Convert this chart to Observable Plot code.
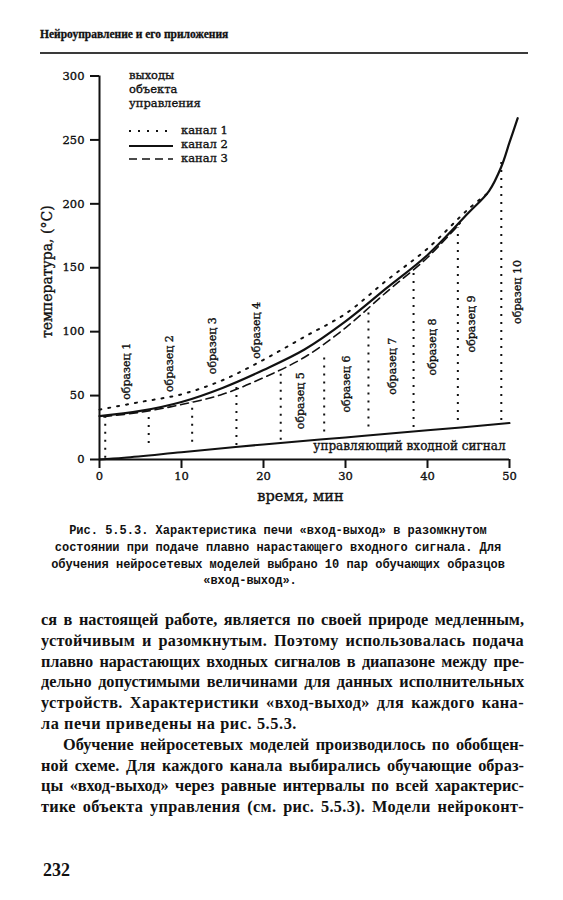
<!DOCTYPE html>
<html><head><meta charset="utf-8">
<script src="https://cdn.jsdelivr.net/npm/d3@7"></script>
<script src="https://cdn.jsdelivr.net/npm/@observablehq/plot@0.6"></script>
<style>
body{margin:0;background:#fff;width:563px;height:900px;position:relative;overflow:hidden;color:#111;font-family:"Liberation Serif",serif}
#header{position:absolute;left:40px;top:27.4px;font:bold 11.5px/14px "Liberation Serif",serif;white-space:nowrap;-webkit-text-stroke:0.3px #111}
#rule{position:absolute;left:40px;top:52px;width:488px;height:2px;background:#3a3a3a}
#chart{position:absolute;left:0;top:60px}
#chart svg text{stroke:#111;stroke-width:0.35px}
.lg{position:absolute;font:11.5px/14px "DejaVu Serif",serif;white-space:nowrap;-webkit-text-stroke:0.35px #111}
#caption{position:absolute;left:0;top:523.3px;width:556px;text-align:center;font:bold 12px/16.7px "Liberation Mono",monospace}
#body{position:absolute;left:41px;top:610px;width:483px;font:bold 16.3px/20.8px "Liberation Serif",serif}
#body div{white-space:nowrap}
#page{position:absolute;left:43px;top:860px;font:bold 18px/20px "Liberation Serif",serif}
</style></head>
<body>
<div id="header"></div>
<div id="rule"></div>
<div id="chart"></div>
<div id="legend"></div>
<div id="caption"></div>
<div id="body"></div>
<div id="page"></div>
<script>
// ---- data ----
const xTicks = [0, 10, 20, 30, 40, 50];
const yTicks = [0, 50, 100, 150, 200, 250, 300];

const time1 = [0, 5, 10, 15, 20, 25, 30, 35, 40, 45, 47.3];
const chan1 = [39, 45, 51, 62, 78, 96, 114, 140, 165, 196, 208];

const time2 = [0, 5, 10, 15, 20, 25, 30, 35, 40, 45, 47.5, 49, 50, 51];
const chan2 = [34, 38, 45, 56, 70, 86, 108, 134, 160, 193, 210, 229, 248, 267];

const time3 = [0.5, 5, 10, 15, 20, 25, 30, 35, 40, 44];
const chan3 = [33.5, 37, 43, 51, 64, 80, 103, 131, 158, 185];

const timeIn = [0, 3, 10, 20, 30, 40, 50];
const inputSig = [0, 1.3, 5.6, 11.8, 17.3, 22.8, 28.5];

const sampleT = [0.7, 6.0, 11.3, 16.7, 22.1, 27.4, 32.8, 38.3, 43.7, 49.0];
const sampleLow = [1, 12.5, 13.5, 11, 15, 21.5, 25.5, 25, 30.5, 30.5];
const sampleHigh = [33, 38.4, 45, 59, 69.5, 84, 116, 149, 181, 234];
const sampleNames = ["образец 1", "образец 2", "образец 3", "образец 4", "образец 5",
  "образец 6", "образец 7", "образец 8", "образец 9", "образец 10"];
const labelT = [3.3, 8.5, 13.8, 19.1, 24.5, 30.1, 35.7, 40.6, 45.4, 51];
const labelV = [69, 75, 89, 101, 46, 59, 73, 88, 106, 131];

const inputLabel = "управляющий входной сигнал";
const inputLabelT = 37.8, inputLabelV = 10.4;
const xLabel = "время, мин";
const yLabel = "температура, (°С)";

const legendTitle = ["выходы", "объекта", "управления"];
const legendNames = ["канал 1", "канал 2", "канал 3"];
const legendDash = ["2,7", "none", "8,5"];

const headerText = "Нейроуправление и его приложения";
const captionLines = [
  "Рис. 5.5.3. Характеристика печи «вход-выход» в разомкнутом",
  "состоянии при подаче плавно нарастающего входного сигнала. Для",
  "обучения нейросетевых моделей выбрано 10 пар обучающих образцов",
  "«вход-выход»."
];
const bodyLines = [
  "ся в настоящей работе, является по своей природе медленным,",
  "устойчивым и разомкнутым. Поэтому использовалась подача",
  "плавно нарастающих входных сигналов в диапазоне между пре-",
  "дельно допустимыми величинами для данных исполнительных",
  "устройств. Характеристики «вход-выход» для каждого кана-",
  "ла печи приведены на рис. 5.5.3.",
  "Обучение нейросетевых моделей производилось по обобщен-",
  "ной схеме. Для каждого канала выбирались обучающие образ-",
  "цы «вход-выход» через равные интервалы по всей характерис-",
  "тике объекта управления (см. рис. 5.5.3). Модели нейроконт-"
];
const pageNumber = "232";

// ---- build ----
const ink = "#111";
const rows = (ts, vs) => ts.map((t, i) => ({t, v: vs[i]}));

const samples = sampleT.map((t, i) => ({t, lo: sampleLow[i], hi: sampleHigh[i]}));
const sLabels = sampleNames.map((s, i) => ({s, t: labelT[i], v: labelV[i]}));

const plot = Plot.plot({
  width: 563, height: 450,
  marginTop: 15.5, marginBottom: 51, marginLeft: 99, marginRight: 54,
  x: {domain: [0, 50]},
  y: {domain: [0, 300]},
  style: {fontFamily: "'DejaVu Serif', serif", fontSize: "11.5px", color: ink, background: "transparent", overflow: "visible"},
  marks: [
    Plot.ruleX(samples, {x: "t", y1: "lo", y2: "hi", stroke: ink, strokeWidth: 2, strokeDasharray: "2,6"}),
    Plot.line(rows(timeIn, inputSig), {x: "t", y: "v", stroke: ink, strokeWidth: 2, curve: "catmull-rom"}),
    Plot.line(rows(time1, chan1), {x: "t", y: "v", stroke: ink, strokeWidth: 2, strokeDasharray: "2,7", curve: "catmull-rom"}),
    Plot.line(rows(time3, chan3), {x: "t", y: "v", stroke: ink, strokeWidth: 1.6, strokeDasharray: "8,5", curve: "catmull-rom"}),
    Plot.line(rows(time2, chan2), {x: "t", y: "v", stroke: ink, strokeWidth: 2.2, curve: "catmull-rom"}),
    Plot.text(sLabels, {x: "t", y: "v", text: "s", rotate: -90, fontSize: 11, textAnchor: "middle", lineAnchor: "middle", fill: ink}),
    Plot.text([inputLabel], {x: () => inputLabelT, y: () => inputLabelV, text: d => d, fontSize: 12, textAnchor: "middle", lineAnchor: "middle", fill: ink}),
    Plot.ruleY([0], {stroke: ink, strokeWidth: 2}),
    Plot.ruleX([0], {stroke: ink, strokeWidth: 2}),
    Plot.axisY({ticks: yTicks, tickSize: 9, tickPadding: 6, label: null, strokeWidth: 2, fontSize: 11.5}),
    Plot.axisX({ticks: xTicks, tickSize: 9, tickPadding: 3, label: null, strokeWidth: 2, fontSize: 11.5}),
    Plot.text([yLabel], {frameAnchor: "left", dx: -52, dy: 4, rotate: -90, text: d => d, fontSize: 14, textAnchor: "middle", lineAnchor: "middle", fill: ink}),
    Plot.text([xLabel], {frameAnchor: "bottom", dy: 37, dx: -4, text: d => d, fontSize: 14.5, textAnchor: "middle", lineAnchor: "middle", fill: ink})
  ]
});
document.getElementById("chart").append(plot);

// legend (inside chart area)
const lg = document.getElementById("legend");
legendTitle.forEach((t, i) => {
  const d = document.createElement("div");
  d.className = "lg"; d.textContent = t;
  d.style.left = "129px"; d.style.top = (68 + i * 14) + "px";
  lg.append(d);
});
const rowMid = [131, 145, 159];
legendNames.forEach((t, i) => {
  const d = document.createElement("div");
  d.className = "lg"; d.textContent = t;
  d.style.left = "181px"; d.style.top = (rowMid[i] - 8) + "px";
  lg.append(d);
  const svg = d3.create("svg").attr("width", 46).attr("height", 6)
    .style("position", "absolute").style("left", "128px").style("top", (rowMid[i] - 3 + (i === 1 ? 1 : 0)) + "px");
  svg.append("line").attr("x1", 1).attr("x2", 45).attr("y1", 3).attr("y2", 3)
    .attr("stroke", ink).attr("stroke-width", i === 1 ? 2.2 : (i === 0 ? 2 : 1.6))
    .attr("stroke-dasharray", legendDash[i]);
  lg.append(svg.node());
});

document.getElementById("header").textContent = headerText;
const cap = document.getElementById("caption");
captionLines.forEach((t, i) => {
  const d = document.createElement("div");
  d.textContent = t;
  if (i === captionLines.length - 1) { d.style.position = "relative"; d.style.left = "-28px"; }
  cap.append(d);
});

// body text: each line laid out as in the book; per-line letter and word spacing
const body = document.getElementById("body");
const spans = bodyLines.map((t, i) => {
  const d = document.createElement("div");
  const s = document.createElement("span");
  s.textContent = t;
  if (i === 6) d.style.paddingLeft = "22px";
  d.append(s);
  body.append(d);
  return s;
});
const widths = spans.map(s => s.getBoundingClientRect().width);
const shortIdx = 5, shortTarget = 256;
const lsMax = Math.max(0, Math.min(1.0, (shortTarget - widths[shortIdx]) / bodyLines[shortIdx].length));
spans[shortIdx].style.letterSpacing = lsMax + "px";
spans.forEach((s, i) => {
  if (i === shortIdx) return;
  const target = i === 6 ? 461 : 483;
  const c = bodyLines[i].length;
  const n = (bodyLines[i].match(/ /g) || []).length;
  const minGap = 2.5;
  const ls = Math.max(-0.4, Math.min(lsMax, (target - widths[i] - n * minGap) / c));
  s.style.letterSpacing = ls + "px";
  const ws = (target - widths[i] - ls * c) / n;
  s.style.wordSpacing = ws + "px";
});

document.getElementById("page").textContent = pageNumber;
</script>
</body></html>
